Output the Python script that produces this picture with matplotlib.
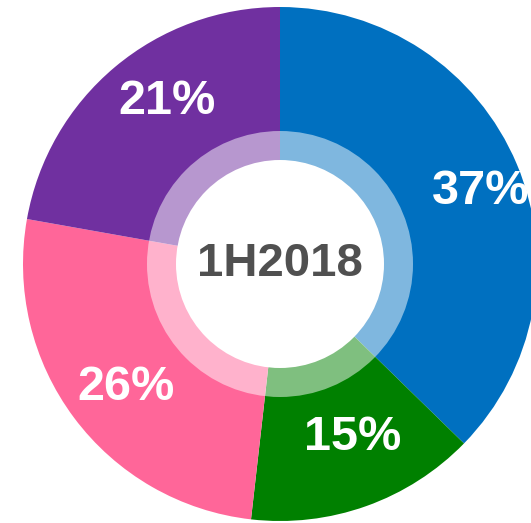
import numpy as np
import matplotlib.pyplot as plt
from matplotlib.patches import Circle

# Daten
shares = [37.3, 14.5, 26.0, 22.2]
labels = ['37%', '15%', '26%', '21%']
colors = ['#0070C0', '#008000', '#FF6699', '#7030A0']
center_text = '1H2018'

plt.rcParams['font.family'] = ['Liberation Sans', 'DejaVu Sans']

fig = plt.figure(figsize=(5.31, 5.23), dpi=100)
ax = fig.add_axes([0, 0, 1, 1])

R = 257
wedges, _ = ax.pie(shares, colors=colors, radius=R, startangle=90,
                   counterclock=False)

# Beschriftung etwas verschoben wie im Original
label_r = [0.83, 0.73, 0.77, 0.77]
label_dang = [-3, 3, 2, -5]
for w, lab, lr, da in zip(wedges, labels, label_r, label_dang):
    ang = np.deg2rad((w.theta1 + w.theta2) / 2 + da)
    ax.text(lr * R * np.cos(ang), lr * R * np.sin(ang), lab, ha='center',
            va='center', color='white', fontsize=35, fontweight='bold')

# heller Ring + weisses Loch
ax.add_patch(Circle((0, 0), 133, facecolor='white', alpha=0.5, lw=0))
ax.add_patch(Circle((0, 0), 104, facecolor='white', lw=0))
ax.text(0, 0, center_text, ha='center', va='center', fontsize=34,
        fontweight='bold', color='#505050')

ax.set_xlim(-280, 251)
ax.set_ylim(-259, 264)
ax.set_aspect('equal')
ax.axis('off')

fig.savefig('out.png', dpi=100)
